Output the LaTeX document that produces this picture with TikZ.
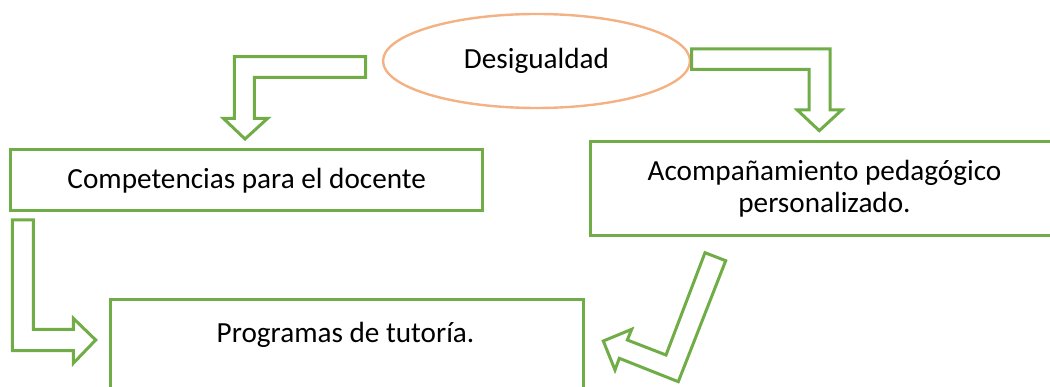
\documentclass[tikz,border=0pt]{standalone}
\usepackage{fontspec}
\setmainfont{Carlito}
\usetikzlibrary{shapes.geometric}
\definecolor{grn}{HTML}{70AD47}
\definecolor{org}{HTML}{F4B183}
\tikzset{
  txt/.style={font=\fontsize{29.2}{32.7}\selectfont, text=black, inner sep=0pt},
  box/.style={draw=grn, line width=3pt, fill=white, inner sep=0pt},
  blockarrow/.style={draw=grn, line width=3pt, fill=white, line join=miter},
}
\begin{document}
\begin{tikzpicture}[x=1pt,y=-1pt]
\useasboundingbox (0,0) rectangle (1050,387);
\clip (0,0) rectangle (1050,387);
% ellipse
\node[ellipse, draw=org, line width=2.4pt, minimum width=307, minimum height=94, inner sep=0pt, txt] (des) at (536.5,61) {Desigualdad};
% boxes
\node[box, minimum width=472, minimum height=60.7, txt] (comp) at (246.7,180.35) {Competencias para el docente};
\node[box, minimum width=468, minimum height=94.3, txt, align=center] (acom) at (824.5,188.85) {Acompañamiento pedagógico\\personalizado.};
\node[box, minimum width=473, minimum height=130, anchor=north west] (tut) at (109.3,298.3) {};
\node[txt] (tuttxt) at (345.5,335) {Programas de tutoría.};
% left bent arrow
\draw[blockarrow] (234.3,56.7) -- (365.7,56.7) -- (365.7,77.3) -- (254.3,77.3) -- (254.3,118.3)
  -- (267.7,118.3) -- (245,139) -- (223.3,118.3) -- (234.3,118.3) -- cycle;
% right bent arrow
\draw[blockarrow] (691.7,49) -- (830,49) -- (830,110) -- (841.7,110) -- (819.3,130.7)
  -- (797.3,110) -- (809,110) -- (809,69.3) -- (691.7,69.3) -- cycle;
% lower-left L arrow
\draw[blockarrow] (12.3,220) -- (33.3,220) -- (33.3,329.3) -- (73.3,329.3) -- (73.3,318.3)
  -- (95.7,340) -- (73.3,363.3) -- (73.3,350.7) -- (12.3,350.7) -- cycle;
% check-mark arrow
\draw[blockarrow] (705,252.7) -- (725.7,260.7) -- (678.3,381.7) -- (619.3,358.3) -- (615,370)
  -- (603.3,341) -- (631.7,329.3) -- (627.3,340) -- (666,355) -- cycle;
\end{tikzpicture}
\end{document}
